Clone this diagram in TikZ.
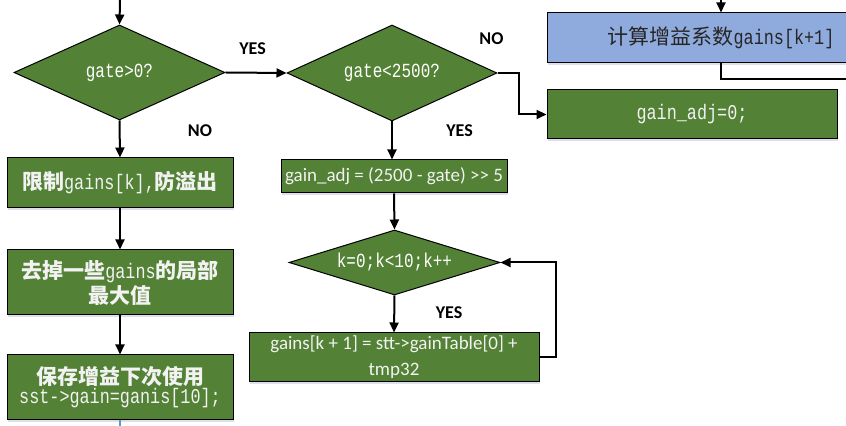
\documentclass[tikz,border=0pt]{standalone}
\usepackage{fontspec}
\setmainfont{Carlito}
\newfontfamily\cjk{Noto Sans CJK SC}
\newfontfamily\hw[FakeStretch=0.8]{Liberation Mono}
\usetikzlibrary{shapes.geometric,shadows,arrows.meta}
\definecolor{boxgreen}{HTML}{538135}
\definecolor{boxblue}{HTML}{8FAADC}
\definecolor{linkblue}{HTML}{5B9BD5}
\tikzstyle{softshadow}=[drop shadow={shadow xshift=0.4pt,shadow yshift=-1.2pt,fill=blue!30!gray,opacity=0.2}]
\tikzstyle{decision}=[diamond,draw=black,line width=0.5pt,fill=boxgreen,text=white,inner sep=0pt,font=\hw\fontsize{10}{12}\selectfont]
\tikzstyle{stepbox}=[rectangle,draw=black,line width=0.5pt,fill=boxgreen,text=white!95!black,inner sep=0pt,align=center,softshadow]
\tikzstyle{edge}=[draw,line width=1pt,-{Triangle[length=5pt,width=4.5pt]}]
\tikzstyle{plainedge}=[draw,line width=1pt]
\tikzstyle{answer}=[font=\bfseries\fontsize{9}{10}\selectfont]

\begin{document}
\begin{tikzpicture}[x=0.5pt,y=-0.5pt]
\useasboundingbox (0,0) rectangle (846,426);

  % decisions
  \foreach \pos/\name/\w/\h/\asp/\label in {{(119.5,72.5)/dpos/105.5pt/47.5pt/2.2/{gate>0?}}, {(392,73)/dlim/105pt/48pt/2.2/{gate<2500?}}, {(394.5,262.5)/dloop/105.5pt/32.5pt/3.25/{k=0;k<10;k++}}}
        \node[decision,aspect=\asp,minimum width=\w,minimum height=\h] (\name) at \pos {\label};

  % left column
  \node[stepbox,minimum width=113pt,minimum height=25pt,font=\cjk\bfseries\fontsize{10.5}{12.5}\selectfont] (clamp) at (120,183) {限制{\hw\mdseries gains[k],}防溢出};
  \node[stepbox,minimum width=113pt,minimum height=32.5pt,font=\cjk\bfseries\fontsize{10.5}{12.5}\selectfont] (peak) at (120,282.5) {去掉一些{\hw\mdseries gains}的局部\\最大值};
  \node[stepbox,minimum width=113pt,minimum height=32.5pt,font=\cjk\bfseries\fontsize{10.5}{12.5}\selectfont] (keep) at (120,387.5) {保存增益下次使用\\[-3pt]{\hw\mdseries sst->gain=ganis[10];}};

  % middle column
  \node[stepbox,minimum width=113pt,minimum height=16.5pt,font=\fontsize{9.5}{12}\selectfont] (adj) at (394,176.5) {gain\_adj = (2500 - gate) >{}> 5};
  \node[stepbox,minimum width=145pt,minimum height=24.5pt,font=\fontsize{9.5}{13}\selectfont] (gains) at (394,357.5) {gains[k + 1] = stt->gainTable[0] +\\tmp32};

  % right column
  \node[stepbox,minimum width=145pt,minimum height=24.5pt,font=\hw\fontsize{10.5}{12}\selectfont] (zero) at (692,114.5) {gain\_adj=0;};
  \node[stepbox,fill=boxblue,text=black!85,minimum width=174pt,minimum height=25pt,font=\cjk\fontsize{10.5}{12}\selectfont] (coef) at (721,38) {计算增益系数{\hw gains[k+1]}};

  \coordinate (entry) at (120,0);
  \coordinate (coefin) at (721,0);
  \coordinate (coefout) at (850,79);
  \coordinate (exit) at (120,426);

  % connectors
  \path[edge] (entry) -- (dpos.north);
  \path[edge] (dpos.east) -- (dlim.west);
  \path[edge] (dpos.south) -- (clamp.north);
  \path[edge] (clamp.south) -- (peak.north);
  \path[edge] (peak.south) -- (keep.north);
  \path[edge] (dlim.south) -- (dlim.south |- adj.north);
  \path[edge] (dlim.east) -- ++(21,0) |- (zero.west);
  \path[edge] (adj.south) -- (dloop.north);
  \path[edge] (dloop.south) -- (gains.north);
  \path[edge] (gains.east) -- ++(16,0) |- (dloop.east);
  \path[edge] (coefin) -- (coef.north);
  \path[plainedge] (coef.south) |- (coefout);
  \draw[linkblue,line width=0.6pt] (keep.south) -- (exit);

  \node[answer] (yes1) at (252.5,49) {YES};
  \node[answer] (no1) at (200,131) {NO};
  \node[answer] (no2) at (491.5,39) {NO};
  \node[answer] (yes2) at (459.5,131) {YES};
  \node[answer] (yes3) at (449,313) {YES};
\end{tikzpicture}
\end{document}
